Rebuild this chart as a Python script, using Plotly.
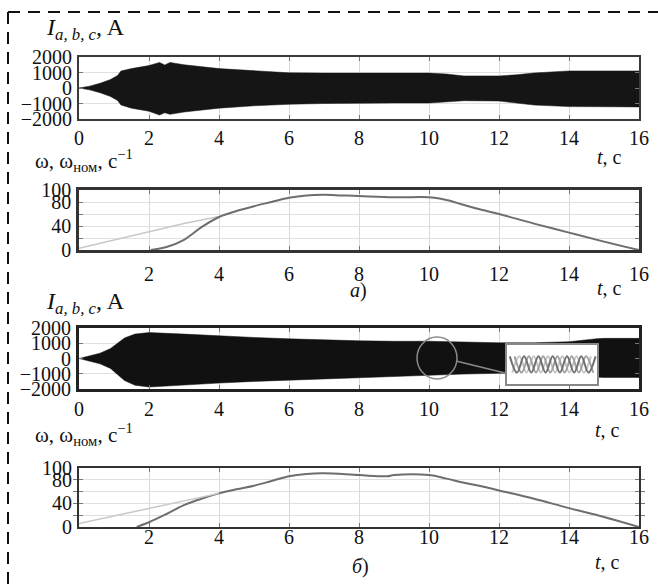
import plotly.graph_objects as go

# ---------------- data ----------------
# phase-current envelopes, case a)
t_env_a = [0, 0.3, 0.6, 0.9, 1.1, 1.2, 1.5, 2.0, 2.3, 2.45, 2.6, 3.0, 4.0, 5.0, 6.0, 7.0, 8.0, 9.0,
           10.0, 10.5, 11.0, 12.0, 12.5, 13.0, 14.0, 15.0, 16.0]
upper_a = [0, 120, 300, 550, 800, 1100, 1250, 1450, 1650, 1480, 1650, 1500, 1250, 1100, 980, 960,
           960, 960, 960, 900, 780, 780, 850, 970, 1100, 1100, 1100]
lower_a = [0, -120, -300, -550, -800, -1100, -1300, -1500, -1750, -1600, -1700, -1550, -1300, -1150,
           -1050, -1000, -980, -970, -970, -900, -820, -840, -950, -1100, -1200, -1220, -1220]

# phase-current envelopes, case б)
t_env_b = [0, 0.3, 0.6, 0.9, 1.1, 1.3, 1.6, 2.0, 3.0, 4.0, 5.0, 6.0, 7.0, 8.0, 9.0, 10.0, 11.0,
           12.0, 13.0, 14.0, 14.8, 15.0, 16.0]
upper_b = [0, 150, 350, 650, 1000, 1350, 1600, 1700, 1600, 1480, 1380, 1290, 1220, 1160, 1130,
           1130, 1080, 1030, 1030, 1100, 1300, 1320, 1320]
lower_b = [0, -150, -350, -650, -1050, -1450, -1750, -1870, -1750, -1610, -1500, -1420, -1300,
           -1220, -1150, -1100, -1020, -970, -1000, -1150, -1230, -1240, -1240]

# zoomed waveform in the inset (peak values, half-period steps)
wave_x = [0, 0.5, 1.0, 1.5, 2.0, 2.5, 3.0, 3.5, 4.0, 4.5, 5.0, 5.5, 6.0]
wave_a = [1, -1, 1, -1, 1, -1, 1, -1, 1, -1, 1, -1, 1]
wave_b_x = [0.33, 0.83, 1.33, 1.83, 2.33, 2.83, 3.33, 3.83, 4.33, 4.83, 5.33, 5.83]
wave_b = [1, -1, 1, -1, 1, -1, 1, -1, 1, -1, 1, -1]
wave_c_x = [0.17, 0.67, 1.17, 1.67, 2.17, 2.67, 3.17, 3.67, 4.17, 4.67, 5.17, 5.67]
wave_c = [-1, 1, -1, 1, -1, 1, -1, 1, -1, 1, -1, 1]
inset_x_range = [-0.2, 6.1]
inset_y_range = [-2.4, 2.4]

# speed, case a)
t_ref_a = [0, 1, 2, 3, 4]
w_ref_a = [3, 17, 31, 44, 56]
t_w_a = [2.05, 2.5, 3.0, 3.5, 4.0, 4.5, 5.0, 5.5, 6.0, 6.5, 7.0, 7.5, 8.0, 9.0, 10.0, 10.3, 10.6,
         11.0, 11.5, 12.0, 13.0, 14.0, 15.0, 16.0]
w_a = [0, 5, 17, 38, 55, 65, 73, 80, 87, 91, 92, 91, 90, 88, 88, 86, 82, 75, 67, 60, 44, 29, 14, 0]

# speed, case б)
t_ref_b = [0, 1, 2, 3, 4]
w_ref_b = [6, 19, 32, 44, 57]
t_w_b = [1.65, 2.0, 2.5, 3.0, 3.5, 4.0, 4.5, 5.0, 5.5, 6.0, 6.5, 7.0, 8.0, 8.8, 9.0, 10.0, 10.5,
         11.0, 11.5, 12.0, 13.0, 14.0, 15.0, 16.0]
w_b = [0, 8, 22, 37, 48, 57, 64, 70, 78, 86, 90, 91, 88, 86, 88, 88, 82, 75, 69, 62, 48, 32, 17, 0]

x_ticks_full = [0, 2, 4, 6, 8, 10, 12, 14, 16]
x_ticks_speed = [2, 4, 6, 8, 10, 12, 14, 16]
i_ticks = [-2000, -1000, 0, 1000, 2000]
i_ticktext = ["−2000", "−1000", "0", "1000", "2000"]
w_ticks = [0, 20, 40, 60, 80, 100]
w_ticktext = ["0", " ", "40", " ", "80", "100"]

# ---------------- layout helpers ----------------
W, H = 658, 584
FONT = "Liberation Serif"


def px(x):
    return x / W


def py(y):
    return 1 - y / H


xdom = [px(79), px(639)]

fig = go.Figure()

# current envelopes
fig.add_trace(go.Scatter(x=t_env_a + t_env_a[::-1], y=upper_a + lower_a[::-1], fill="toself",
                         fillcolor="#151515", line=dict(color="#151515", width=0.5),
                         mode="lines", xaxis="x", yaxis="y", hoverinfo="skip"))
fig.add_trace(go.Scatter(x=t_env_b + t_env_b[::-1], y=upper_b + lower_b[::-1], fill="toself",
                         fillcolor="#111111", line=dict(color="#111111", width=0.5),
                         mode="lines", xaxis="x3", yaxis="y3", hoverinfo="skip"))

# speed curves a)
fig.add_trace(go.Scatter(x=t_ref_a, y=w_ref_a, mode="lines", line=dict(color="#c8c8c8", width=1.5),
                         xaxis="x2", yaxis="y2"))
fig.add_trace(go.Scatter(x=t_w_a, y=w_a, mode="lines", line=dict(color="#6e6e6e", width=2, shape="spline"),
                         xaxis="x2", yaxis="y2"))
# speed curves б)
fig.add_trace(go.Scatter(x=t_ref_b, y=w_ref_b, mode="lines", line=dict(color="#c8c8c8", width=1.5),
                         xaxis="x6", yaxis="y4"))
fig.add_trace(go.Scatter(x=t_w_b, y=w_b, mode="lines", line=dict(color="#6e6e6e", width=2, shape="spline"),
                         xaxis="x4", yaxis="y4"))

# inset: white background then waves
fig.add_trace(go.Scatter(x=[inset_x_range[0], inset_x_range[1], inset_x_range[1], inset_x_range[0]],
                         y=[inset_y_range[0], inset_y_range[0], inset_y_range[1], inset_y_range[1]],
                         fill="toself", fillcolor="white", line=dict(width=0), mode="lines",
                         xaxis="x5", yaxis="y5", hoverinfo="skip"))
fig.add_trace(go.Scatter(x=wave_c_x, y=wave_c, mode="lines", line=dict(color="#c4c4c4", width=2, shape="spline"),
                         xaxis="x5", yaxis="y5"))
fig.add_trace(go.Scatter(x=wave_b_x, y=wave_b, mode="lines", line=dict(color="#a0a0a0", width=2, shape="spline"),
                         xaxis="x5", yaxis="y5"))
fig.add_trace(go.Scatter(x=wave_x, y=wave_a, mode="lines", line=dict(color="#707070", width=2, shape="spline"),
                         xaxis="x5", yaxis="y5"))

tickfont = dict(family=FONT, size=20, color="#111")
ytickfont = dict(family=FONT, size=20, color="#111")


def xax(dom_anchor, tickvals, standoff, lw=2, lc="#3a3a3a", labels=True):
    return dict(domain=xdom, anchor=dom_anchor, range=[0, 16], tickvals=tickvals,
                ticktext=[str(v) for v in tickvals], tickfont=tickfont, showticklabels=labels,
                showgrid=True, gridcolor="#d9d9d9", gridwidth=1,
                ticks="inside", ticklen=4, tickcolor="#777", mirror="allticks",
                showline=True, linecolor=lc, linewidth=lw, zeroline=False,
                ticklabelstandoff=standoff, automargin=False)


def yax(dom_anchor, dom, rng, tickvals, ticktext, lw=2, lc="#3a3a3a"):
    return dict(domain=dom, anchor=dom_anchor, range=rng, tickvals=tickvals, ticktext=ticktext,
                tickfont=ytickfont, showgrid=True, gridcolor="#e0e0e0", gridwidth=1,
                ticks="inside", ticklen=4, tickcolor="#777", mirror="allticks",
                showline=True, linecolor=lc, linewidth=lw, zeroline=False,
                ticklabelstandoff=1, automargin=False)


fig.update_layout(
    template="none",
    width=W, height=H, margin=dict(l=0, r=0, t=0, b=0, pad=0), autosize=False,
    paper_bgcolor="white", plot_bgcolor="white", showlegend=False,
    xaxis=xax("y", x_ticks_full, 0),
    yaxis=yax("x", [py(119), py(57)], [-2000, 2000], i_ticks, i_ticktext),
    xaxis2=xax("y2", x_ticks_speed, 4, lw=2.5, lc="#333"),
    yaxis2=yax("x2", [py(250), py(190)], [0, 100], w_ticks, w_ticktext, lw=2.5, lc="#333"),
    xaxis3=xax("y3", x_ticks_full, 0, lw=3, lc="#222"),
    yaxis3=yax("x3", [py(389), py(328)], [-2000, 2000], i_ticks, i_ticktext, lw=3, lc="#222"),
    xaxis4=xax("y4", x_ticks_speed, 0, lw=2, lc="#333", labels=False),
    yaxis4=yax("x4", [py(527), py(468)], [0, 100], w_ticks, w_ticktext, lw=2, lc="#333"),
    # tick labels of the bottom speed panel, sitting a little closer to the frame
    xaxis6=dict(overlaying="x4", anchor="free", position=py(523), range=[0, 16],
                tickvals=x_ticks_speed, ticktext=[str(v) for v in x_ticks_speed], tickfont=tickfont,
                showgrid=False, showline=False, ticks="", zeroline=False, automargin=False),
    xaxis5=dict(domain=[px(507), px(597)], anchor="y5", range=inset_x_range, showgrid=False,
                showticklabels=False, ticks="", showline=True, linecolor="#888", linewidth=1.5,
                mirror=True, zeroline=False, automargin=False),
    yaxis5=dict(domain=[py(384), py(345)], anchor="x5", range=inset_y_range, showgrid=False,
                showticklabels=False, ticks="", showline=True, linecolor="#888", linewidth=1.5,
                mirror=True, zeroline=False, automargin=False),
)

# magnifier circle and connector
fig.add_shape(type="circle", xref="paper", yref="paper", x0=px(417), x1=px(457), y0=py(379), y1=py(337),
              line=dict(color="#8a8a8a", width=1.5))
fig.add_shape(type="line", xref="paper", yref="paper", x0=px(456), y0=py(361), x1=px(505), y1=py(373),
              line=dict(color="#8a8a8a", width=1.5))

# dashed frame (top and left)
fig.add_shape(type="line", xref="paper", yref="paper", x0=px(8), x1=1, y0=py(12), y1=py(12),
              line=dict(color="#111", width=2, dash="12px,8px"))
fig.add_shape(type="line", xref="paper", yref="paper", x0=px(8), x1=px(8), y0=py(12), y1=0,
              line=dict(color="#111", width=2, dash="12px,8px"))


def ann(text, x, y, size, xanchor="left"):
    fig.add_annotation(text=text, x=px(x), y=py(y), xref="paper", yref="paper", showarrow=False,
                       xanchor=xanchor, yanchor="middle", font=dict(family=FONT, size=size, color="#111"))


ann("<i>I</i><sub><i>a, b, c</i></sub>, A", 44, 29, 24)
ann("<i>I</i><sub><i>a, b, c</i></sub>, A", 44, 303, 24)
ann("ω, ω<sub>ном</sub>, с<sup>−1</sup>", 33, 160, 21)
ann("ω, ω<sub>ном</sub>, с<sup>−1</sup>", 33, 434, 21)
ann("<i>t</i>, с", 609, 157, 20, "center")
ann("<i>t</i>, с", 609, 288, 20, "center")
ann("<i>t</i>, с", 607, 430, 20, "center")
ann("<i>t</i>, с", 607, 562, 20, "center")
ann("<i>а</i>)", 358, 290, 20, "center")
ann("<i>б</i>)", 360, 566, 20, "center")

fig.write_html("out.html", config={"displayModeBar": False},
               post_script="document.body.style.margin='0';document.body.style.overflow='hidden';")
